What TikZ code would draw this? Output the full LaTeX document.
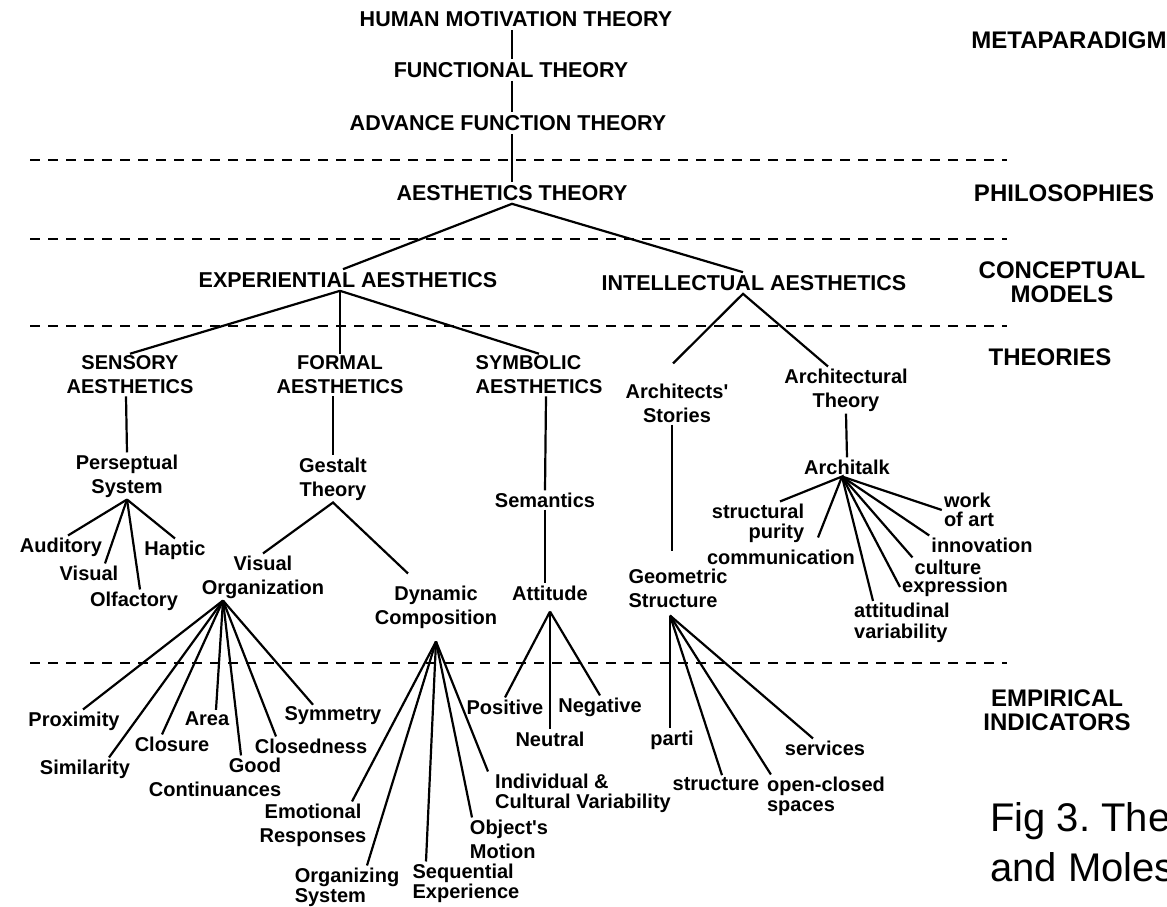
\documentclass[tikz,border=0pt]{standalone}
\usepackage{fontspec}
\setmainfont{Liberation Sans}

\begin{document}
\begin{tikzpicture}[x=1pt, y=-1pt,
  big/.style={font=\bfseries\fontsize{21.5}{25}\selectfont, inner sep=3pt},
  lbl/.style={font=\bfseries\fontsize{20}{24}\selectfont, align=center, inner sep=2pt},
  level/.style={font=\bfseries\fontsize{24}{23.5}\selectfont, align=center, inner sep=0pt},
  capt/.style={font=\fontsize{40}{50}\selectfont\frenchspacing, align=left, inner sep=0pt, anchor=west},
  link/.style={line width=2.2pt},
  sep/.style={line width=2pt, dash pattern=on 10pt off 8pt}]
\fill[white] (0,0) rectangle (1167,907);
\useasboundingbox (0,0) rectangle (1167,907);

\foreach \y in {160,239,326,663} \draw[sep] (30,\y) -- (1007,\y);

\node[level] (meta) at (1069,40) {METAPARADIGM};
\node[level] (phil) at (1064,193) {PHILOSOPHIES};
\node[level] (cm) at (1062,282) {CONCEPTUAL\\MODELS};
\node[level] (theo) at (1050,357) {THEORIES};
\node[level] (emp) at (1057,710) {EMPIRICAL\\INDICATORS};
\node[capt] (fig) at (990,842) {Fig 3. The\\and Moles};

\node[big] (hmt) at (516,19) {HUMAN MOTIVATION THEORY};
\node[big] (ft) at (511,70) {FUNCTIONAL THEORY};
\node[big] (aft) at (508,123) {ADVANCE FUNCTION THEORY};
\node[big] (at) at (512,193) {AESTHETICS THEORY};
\node[big] (ea) at (348,280) {EXPERIENTIAL AESTHETICS};
\node[big] (ia) at (754,283) {INTELLECTUAL AESTHETICS};

\node[lbl] (sa) at (130,375) {SENSORY\\AESTHETICS};
\node[lbl] (fa) at (340,375) {FORMAL\\AESTHETICS};
\node[lbl, align=left] (syma) at (539,375) {SYMBOLIC\\AESTHETICS};
\node[lbl] (arst) at (677,403) {Architects\textquotesingle\\Stories};
\node[lbl] (arth) at (846,390) {Architectural\\Theory};

\node[lbl] (ps) at (127,476) {Perseptual\\System};
\node[lbl] (gt) at (333,479) {Gestalt\\Theory};
\node[lbl] (sem) at (545,500) {Semantics};
\node[lbl] (att) at (550,593) {Attitude};
\node[lbl, align=left] (gs) at (678,588) {Geometric\\Structure};
\node[lbl] (ak) at (847,467) {Architalk};

\node[lbl] (aud) at (61,547) {Auditory};
\node[lbl] (vis) at (89,573) {Visual};
\node[lbl] (olf) at (134,601) {Olfactory};
\node[lbl] (hap) at (175,550) {Haptic};

\node[lbl] (vo) at (263,577) {Visual\\Organization};
\node[lbl] (dc) at (436,607) {Dynamic\\Composition};

\node[lbl] (prox) at (74,721) {Proximity};
\node[lbl] (sim) at (85,769) {Similarity};
\node[lbl] (clo) at (172,744) {Closure};
\node[lbl] (area) at (207,719) {Area};
\node[lbl, align=right] (good) at (215,777) {Good\\Continuances};
\node[lbl] (cld) at (311,746) {Closedness};
\node[lbl] (sym) at (333,716) {Symmetry};

\node[lbl] (emo) at (313,825) {Emotional\\Responses};
\node[lbl, align=left] (orgs) at (347,887) {Organizing\\[-4pt]System};
\node[lbl, align=left] (seq) at (466,883) {Sequential\\[-4pt]Experience};
\node[lbl, align=left] (obj) at (509,839) {Object\textquotesingle s\\Motion};
\node[lbl, align=left] (ind) at (583,793) {Individual \&\\[-4pt]Cultural Variability};

\node[lbl] (pos) at (505,707) {Positive};
\node[lbl] (neu) at (550,739) {Neutral};
\node[lbl] (neg) at (600,707) {Negative};

\node[lbl] (parti) at (672,740) {parti};
\node[lbl] (serv) at (825,748) {services};
\node[lbl] (stru) at (716,784) {structure};
\node[lbl, align=left] (ocs) at (826,796) {open-closed\\[-4pt]spaces};

\node[lbl, align=right] (stp) at (758,523) {structural\\[-4pt]purity};
\node[lbl] (com) at (781,557) {communication};
\node[lbl, align=left] (atv) at (902,623) {attitudinal\\[-3pt]variability};
\node[lbl] (expr) at (955,587) {expression};
\node[lbl] (cul) at (948,567) {culture};
\node[lbl] (inn) at (982,545) {innovation};
\node[lbl, align=left] (woa) at (969,510) {work\\[-5pt]of art};

\foreach \a/\b in {hmt/ft, ft/aft, aft/at} \draw[link] (at |- \a.south) -- (at |- \b.north);
\draw[link] (arth.south) -- (ak.north);
\draw[link] ([xshift=-5]ea.north) -- (at.south) -- ([xshift=-11]ia.north);
\foreach \b in {sa,fa,syma} \draw[link] ([xshift=-8]ea.south) -- (\b.north);
\draw[link] ([xshift=-4,yshift=18]arst.north) -- ([xshift=-11]ia.south) -- ([xshift=-18]arth.north);

\draw[link] ([xshift=-4]sa.south) -- (ps.north);
\draw[link] ([xshift=-7]fa.south) -- (gt.north);
\draw[link] ([xshift=7]syma.south) -- (sem.north);
\draw[link] (sem.south) -- ([xshift=-5]att.north);
\draw[link] ([xshift=-5]arst.south) -- ([xshift=-6,yshift=15]gs.north);

\foreach \b/\s in {aud/7, vis/16, olf/6, hap/0} \draw[link] (ps.south) -- ([xshift=\s]\b.north);
\draw[link] (vo.north) -- (gt.south) -- ([xshift=-28,yshift=10]dc.north);

\foreach \b/\s in {prox/9, sim/24, clo/-10, area/9, good/26, cld/-35, sym/-20}
  \draw[link] ([xshift=-40]vo.south) -- ([xshift=\s]\b.north);
\foreach \b/\s in {emo/39, orgs/20, seq/-40, obj/-37}
  \draw[link] ([yshift=-11]dc.south) -- ([xshift=\s]\b.north);
\draw[link] ([yshift=-11]dc.south) -- ([xshift=-5]ind.north west);
\foreach \b in {pos, neu, neg} \draw[link] ([yshift=-9]att.south) -- (\b.north);

\foreach \b/\s in {parti/-2, stru/6, serv/-12}
  \draw[link] ([xshift=-8,yshift=-6]gs.south) -- ([xshift=\s]\b.north);
\draw[link] ([xshift=-8,yshift=-6]gs.south) -- ([xshift=6]ocs.north west);

\draw[link] ([xshift=22]stp.north) -- ([xshift=-5]ak.south) -- ([xshift=37,yshift=10]com.north);
\draw[link] ([xshift=-5]ak.south) -- ([xshift=-29]atv.north);
\foreach \b in {expr.west, cul.north west, inn.north west, woa.west}
  \draw[link] ([xshift=-5]ak.south) -- (\b);
\end{tikzpicture}
\end{document}
